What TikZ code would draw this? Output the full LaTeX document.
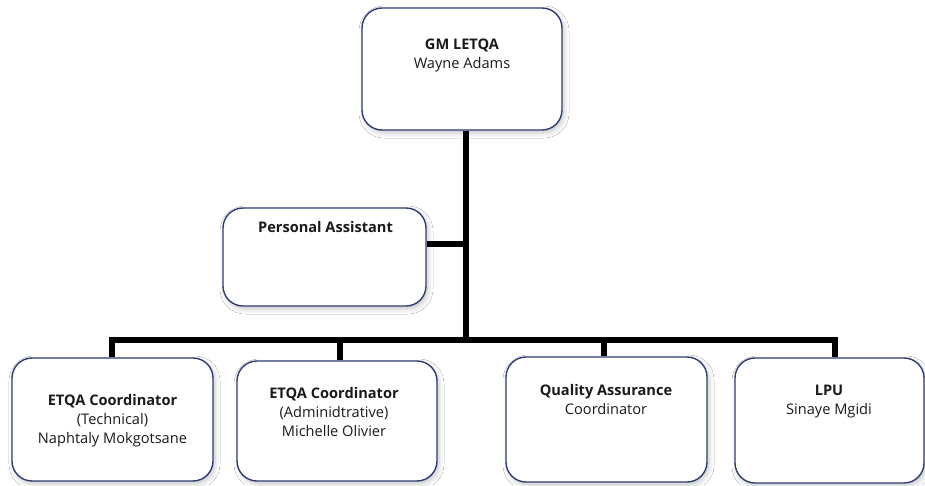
\documentclass[tikz,border=0pt]{standalone}
\usepackage{fontspec}
\setmainfont{Open Sans}
\usetikzlibrary{shadows.blur}
\definecolor{boxline}{HTML}{2E3C73}
\definecolor{txt}{HTML}{1A1A1A}
\tikzset{
  orgbox/.style={draw=boxline, line width=1.4pt, rounded corners=20pt, fill=white,
    inner sep=0pt, blur shadow={shadow xshift=2pt, shadow yshift=-3pt, shadow blur steps=6, shadow opacity=22, shadow blur radius=5pt}},
  orgtext/.style={anchor=north, inner sep=0pt, align=center, text=txt,
    font=\fontsize{14.6}{19}\selectfont},
  conn/.style={line width=5.5pt, black}
}
\begin{document}
\begin{tikzpicture}[x=1pt, y=-1pt]
\useasboundingbox[fill=white] (0,0) rectangle (925,485);
% boxes
\node[orgbox, minimum width=200pt, minimum height=122pt] (gm) at (462,69) {};
\node[orgbox, minimum width=203pt, minimum height=98pt] (pa) at (324.5,257) {};
\node[orgbox, minimum width=201pt, minimum height=123pt] (b1) at (112.5,419.5) {};
\node[orgbox, minimum width=200pt, minimum height=120pt] (b2) at (337,421) {};
\node[orgbox, minimum width=201pt, minimum height=125pt] (b3) at (606.5,419.5) {};
\node[orgbox, minimum width=189pt, minimum height=125pt] (b4) at (829.5,420.5) {};
% texts
\node[orgtext] (tgm) at (462,38.5) {\textbf{GM LETQA}\\Wayne Adams};
\node[orgtext] (tpa) at (325.5,221.5) {\textbf{Personal Assistant}};
\node[orgtext] (tb1) at (112.5,394.5) {\textbf{ETQA Coordinator}\\(Technical)\\Naphtaly Mokgotsane};
\node[orgtext] (tb2) at (334,387.5) {\textbf{ETQA Coordinator}\\(Adminidtrative)\\Michelle Olivier};
\node[orgtext] (tb3) at (606,384.5) {\textbf{Quality Assurance}\\Coordinator};
\node[orgtext] (tb4) at (829,384.5) {\textbf{LPU}\\Sinaye Mgidi};
% connector points
\coordinate (trunktop) at (466,130);
\coordinate (trunkbot) at (466,340);
\coordinate (pastub) at (466,244);
\coordinate (busL) at (112,340);
\coordinate (bus2) at (340,340);
\coordinate (bus3) at (604,340);
\coordinate (busR) at (835,340);
% connectors
\draw[conn] (gm.south -| trunktop) -- (trunkbot);
\draw[conn] (pa.east |- pastub) -- (pastub);
\draw[conn] ([xshift=-2.75pt]busL) -- ([xshift=2.75pt]busR);
\draw[conn] (busL) -- (busL |- b1.north);
\draw[conn] (bus2) -- (bus2 |- b2.north);
\draw[conn] (bus3) -- (bus3 |- b3.north);
\draw[conn] (busR) -- (busR |- b4.north);
\end{tikzpicture}
\end{document}
